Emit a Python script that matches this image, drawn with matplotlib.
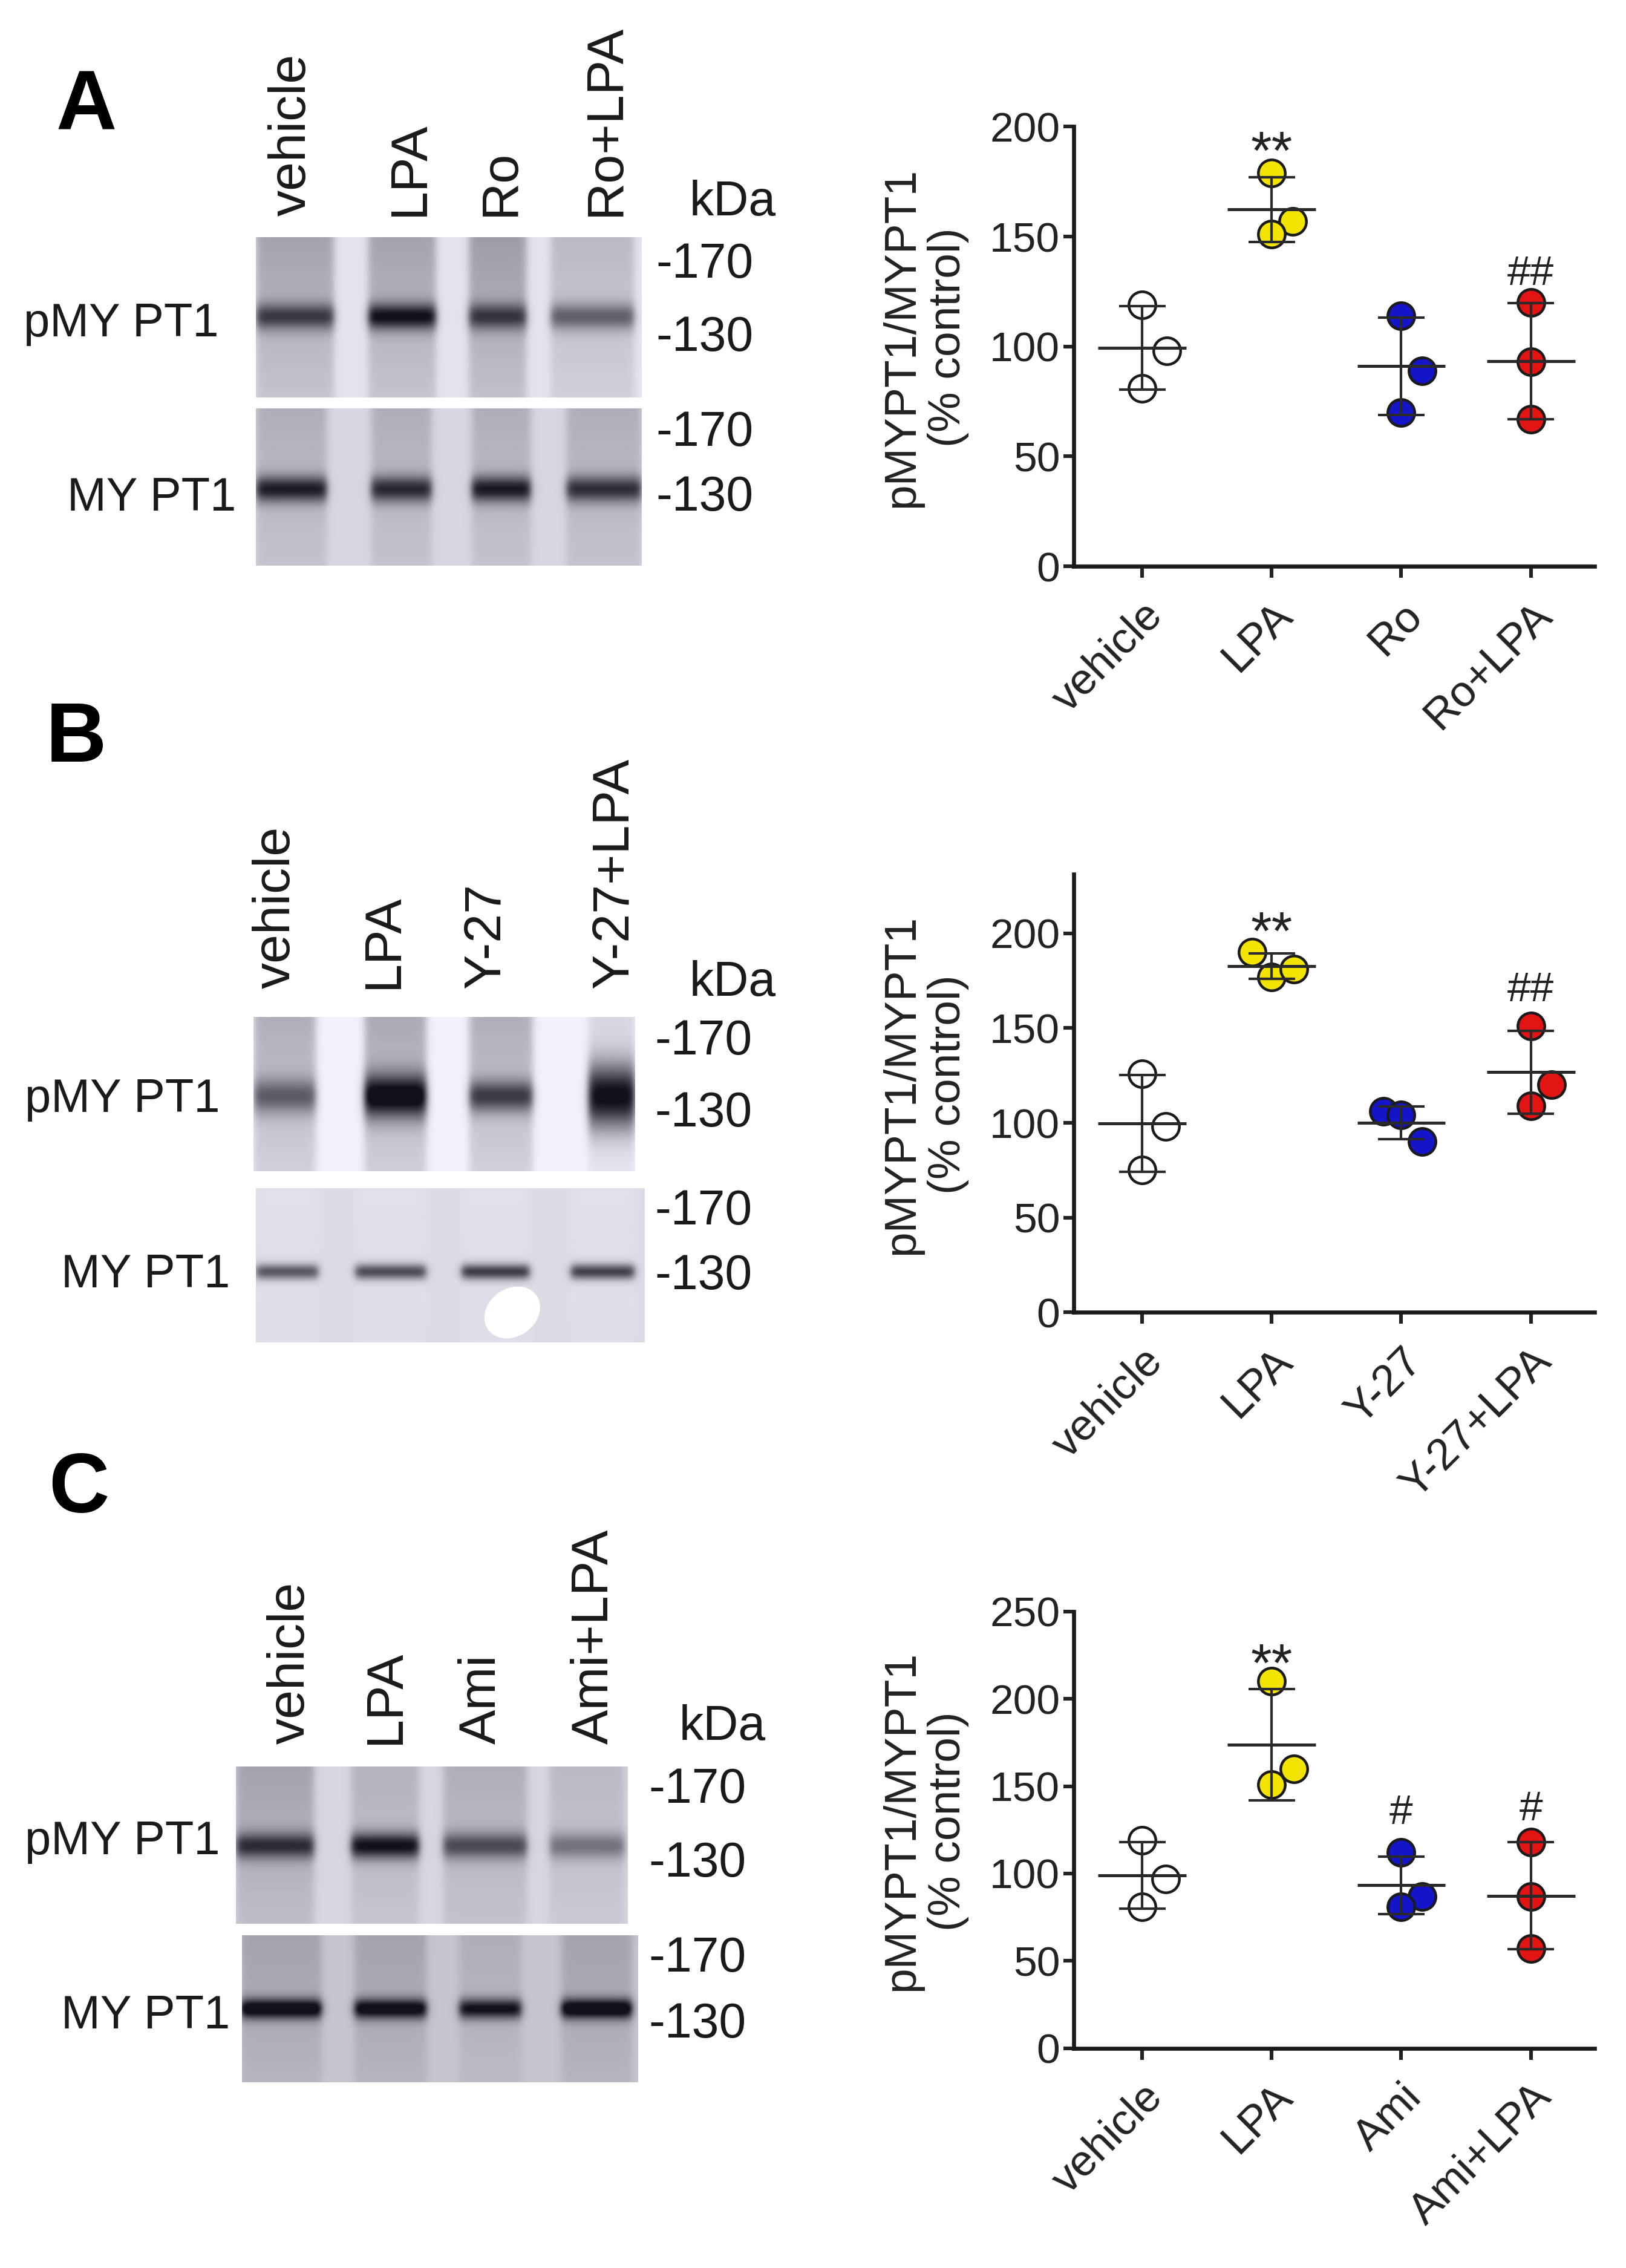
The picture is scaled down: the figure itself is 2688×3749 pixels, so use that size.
import numpy as np
import matplotlib
matplotlib.use("Agg")
import matplotlib.pyplot as plt
from matplotlib.patches import Ellipse
from matplotlib.transforms import ScaledTranslation

plt.rcParams['font.family'] = ['Liberation Sans', 'DejaVu Sans']

# ---- data ----
groups_A = ["vehicle", "LPA", "Ro", "Ro+LPA"]
groups_B = ["vehicle", "LPA", "Y-27", "Y-27+LPA"]
groups_C = ["vehicle", "LPA", "Ami", "Ami+LPA"]

# pMYPT1/MYPT1 (% control), three experiments per group
values_A = [[119, 98, 81], [179, 157, 151], [114, 89, 70], [120, 93, 67]]
values_B = [[126, 98, 75], [190, 177, 181], [106, 104, 90], [151, 120, 109]]
values_C = [[119, 97, 81], [210, 160, 151], [112, 87, 81], [118, 87, 57]]

# horizontal scatter of the dots (category units)
jitter_A = [[0, 0.19, 0], [0, 0.16, 0], [0, 0.16, 0], [0, 0, 0]]
jitter_B = [[0, 0.18, 0], [-0.15, 0, 0.17], [-0.14, 0, 0.16], [0, 0.16, 0]]
jitter_C = [[0, 0.18, 0], [0, 0.17, 0], [0, 0.16, 0], [0, 0, 0]]

# significance marks: (group index, text, height)
marks_A = [(1, "**", 195), (3, "##", 135)]
marks_B = [(1, "**", 208), (3, "##", 172)]
marks_C = [(1, "**", 228), (2, "#", 137), (3, "#", 139)]

# western blot band darkness per lane (0 = white, 1 = black)
bands_pA = [0.55, 0.75, 0.55, 0.45]
bands_tA = [0.70, 0.65, 0.72, 0.62]
bands_pB = [0.45, 0.90, 0.60, 0.95]
bands_tB = [0.60, 0.65, 0.72, 0.70]
bands_pC = [0.60, 0.78, 0.50, 0.35]
bands_tC = [0.85, 0.80, 0.75, 0.88]

dot_colors = ["white", "#f2e300", "#1414c8", "#e31414"]
ink = "#1a1a1a"

W, H = 1130.0, 1576.0
fig = plt.figure(figsize=(13.44, 18.745), dpi=200)

# overlay in picture coordinates for the blots and their labels
ov = fig.add_axes([0, 0, 1, 1])
ov.set_axis_off()


def blot(x0, x1, y0, y1, lanes, lane_bg, bands, band_y, band_h, gap):
    xs = np.linspace(x0, x1, 400)
    ys = np.linspace(y0, y1, 160)
    X, Y = np.meshgrid(xs, ys)
    d = np.full(X.shape, gap)
    fade = 1 - 0.5 * (Y - y0) / (y1 - y0)
    if np.isscalar(band_h):
        band_h = [band_h] * len(lanes)
    for (lx0, lx1), lb, bd, bh in zip(lanes, lane_bg, bands, band_h):
        m = 1 / (1 + np.exp(-(X - lx0) / 1.5)) / (1 + np.exp((X - lx1) / 1.5))
        band = np.exp(-((Y - band_y) / bh) ** 2)
        d = d + m * ((lb - gap) * fade + bd * band)
    d = np.clip(d, 0, 1)[..., None]
    light = np.array([0.95, 0.95, 0.99])
    dark = np.array([0.07, 0.07, 0.11])
    rgb = light * (1 - d) + dark * d
    ov.imshow(rgb, extent=(x0, x1, y1, y0), aspect="auto",
              interpolation="bilinear", zorder=1)


# panel A blots
blot(178, 446, 165, 276, [(178, 232), (256, 303), (326, 366), (383, 441)],
     [0.35, 0.35, 0.38, 0.25], bands_pA, 220, 9, 0.06)
blot(178, 446, 284, 393, [(178, 227), (258, 300), (328, 369), (394, 446)],
     [0.30, 0.30, 0.30, 0.30], bands_tA, 340, 9, 0.12)
# panel B blots
blot(176, 441, 707, 814, [(176, 219), (253, 296), (326, 370), (409, 441)],
     [0.30, 0.32, 0.30, 0.12], bands_pB, 762, [12, 15, 11, 22], 0.0)
blot(178, 448, 826, 933, [(178, 221), (247, 296), (321, 368), (397, 441)],
     [0.08, 0.08, 0.08, 0.08], bands_tB, 884, 5.5, 0.10)
ov.add_patch(Ellipse((356, 912), 40, 32, angle=-35, color="white", zorder=2))
# panel C blots
blot(164, 436, 1228, 1337, [(164, 218), (244, 291), (308, 366), (382, 434)],
     [0.35, 0.28, 0.30, 0.25], bands_pC, 1283, 9, 0.12)
blot(168, 443, 1345, 1447, [(167, 223), (246, 296), (319, 362), (390, 439)],
     [0.35, 0.35, 0.30, 0.35], bands_tC, 1396, 7, 0.20)

ov.set_xlim(0, W)
ov.set_ylim(H, 0)

# labels around the blots
left_panels = [
    ("A", (60, 75), groups_A, [203, 285, 348, 421], 150,
     (479, 141), 456, [184, 235, 301, 346], (152, 225), (164, 346)),
    ("B", (53, 514), groups_B, [192, 267, 338, 427], 687,
     (479, 683), 455, [724, 774, 842, 887], (153, 764), (160, 886)),
    ("C", (55, 1036), groups_C, [202, 268, 335, 413], 1212,
     (472, 1200), 451, [1244, 1295, 1361, 1407], (153, 1280), (160, 1401)),
]
for letter, lpos, names, lane_x, lane_y, kda, mw_x, mw_y, prow, trow in left_panels:
    ov.text(*lpos, letter, fontsize=50, fontweight="bold", ha="center",
            va="center", color="black")
    for name, x in zip(names, lane_x):
        ov.text(x, lane_y, name, rotation=90, fontsize=31, ha="center",
                va="bottom", color=ink)
    ov.text(*kda, "kDa", fontsize=29, ha="left", va="center", color=ink)
    for y, mw in zip(mw_y, ["-170", "-130", "-170", "-130"]):
        ov.text(mw_x, y, mw, fontsize=29, ha="left", va="center", color=ink)
    ov.text(*prow, "pMY PT1", fontsize=28, ha="right", va="center", color=ink)
    ov.text(*trow, "MY PT1", fontsize=28, ha="right", va="center", color=ink)


def dot_panel(rect, groups, values, jitter, ymax, yticks, marks):
    ax = fig.add_axes(rect)
    for i, (vals, offs) in enumerate(zip(values, jitter)):
        xs = [i + o for o in offs]
        ax.plot(xs, vals, "o", ms=16, mfc=dot_colors[i], mec=ink,
                mew=1.6, zorder=3, clip_on=False)
        m = np.mean(vals)
        s = np.std(vals, ddof=1)
        ax.hlines(m, i - 0.34, i + 0.34, color="#2a2a2a", lw=1.8, zorder=4)
        ax.vlines(i, m - s, m + s, color="#2a2a2a", lw=1.5, zorder=4)
        ax.hlines([m - s, m + s], i - 0.18, i + 0.18, color="#2a2a2a",
                  lw=1.5, zorder=4)
    for i, txt, h in marks:
        fs = 32 if "*" in txt else 25
        off = -0.58 * fs if "*" in txt else -0.36 * fs
        ax.annotate(txt, (i, h), xytext=(0, off), textcoords="offset points",
                    ha="center", va="baseline", fontsize=fs, color="#222222",
                    annotation_clip=False)
    ax.set_xlim(-0.53, 3.49)
    ax.set_ylim(0, ymax)
    ax.set_yticks(yticks)
    ax.set_xticks(range(len(groups)))
    ax.set_xticklabels(groups, rotation=45, ha="right", rotation_mode="anchor")
    for lab in ax.get_xticklabels():
        lab.set_transform(lab.get_transform() +
                          ScaledTranslation(0.09, 0, fig.dpi_scale_trans))
    for side in ["top", "right"]:
        ax.spines[side].set_visible(False)
    for side in ["left", "bottom"]:
        ax.spines[side].set_linewidth(2.4)
        ax.spines[side].set_color(ink)
    ax.tick_params(axis="y", labelsize=25, length=6, width=2.2, pad=2,
                   colors="#222222")
    ax.tick_params(axis="x", labelsize=26, length=7, width=2.2, pad=10,
                   colors="#222222")
    ax.set_ylabel("pMYPT1/MYPT1\n(% control)", fontsize=27, color="#222222",
                  linespacing=1.15)
    ax.yaxis.set_label_coords(-0.2, 0.52)
    return ax


left = 746 / W
width = (1108 - 746) / W
dot_panel([left, 1 - 393.5 / H, width, (393.5 - 88) / H], groups_A, values_A,
          jitter_A, 200, [0, 50, 100, 150, 200], marks_A)
dot_panel([left, 1 - 912 / H, width, (912 - 607.6) / H], groups_B, values_B,
          jitter_B, 231, [0, 50, 100, 150, 200], marks_B)
dot_panel([left, 1 - 1423.3 / H, width, (1423.3 - 1119.8) / H], groups_C,
          values_C, jitter_C, 250, [0, 50, 100, 150, 200, 250], marks_C)

fig.savefig("out.png", dpi=200)
